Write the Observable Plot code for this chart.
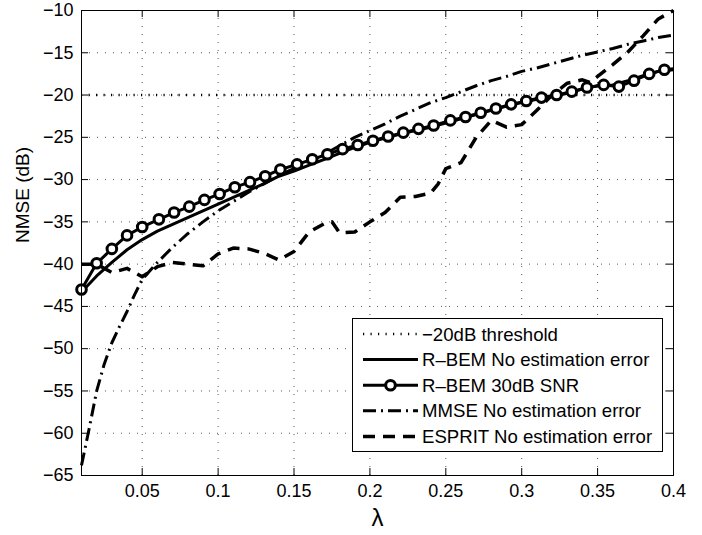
<!DOCTYPE html>
<html><head><meta charset="utf-8">
<script src="https://cdn.jsdelivr.net/npm/d3@7"></script>
<script src="https://cdn.jsdelivr.net/npm/@observablehq/plot@0.6"></script>
<style>
body{margin:0;background:#fff;}
#wrap{position:relative;width:702px;height:535px;font-family:"Liberation Sans",Arial,Helvetica,sans-serif;}
#legend{position:absolute;left:352px;top:318px;}
</style></head><body><div id="wrap"></div>
<script>
// ---- tick labels ----
const xTicks = [0.05, 0.1, 0.15, 0.2, 0.25, 0.3, 0.35, 0.4];
const yTicks = [-65, -60, -55, -50, -45, -40, -35, -30, -25, -20, -15, -10];
const thresholdDb = -20;

// ---- R-BEM 30dB SNR (with circle markers) ----
const rbem30Lambda = [0.010,0.020,0.030,0.040,0.050,0.061,0.071,0.081,0.091,0.101,0.111,0.121,0.131,0.141,0.152,0.162,0.172,0.182,0.192,0.202,0.212,0.222,0.232,0.242,0.253,0.263,0.273,0.283,0.293,0.303,0.313,0.323,0.333,0.343,0.354,0.364,0.374,0.384,0.394,0.400];
const rbem30Nmse   = [-43.0,-39.9,-38.2,-36.6,-35.6,-34.7,-33.9,-33.2,-32.4,-31.7,-30.9,-30.3,-29.6,-28.8,-28.2,-27.6,-27.0,-26.4,-25.9,-25.4,-24.9,-24.45,-24.0,-23.6,-23.0,-22.6,-22.1,-21.6,-21.1,-20.7,-20.3,-20.0,-19.6,-19.1,-18.8,-19.0,-18.3,-17.5,-17.0,-16.9];
const rbem30Marked = 39; // markers drawn on the first 39 samples

// ---- R-BEM no estimation error ----
const rbemLambda = [0.01,0.02,0.03,0.04,0.05,0.06,0.07,0.08,0.09,0.10,0.11,0.12,0.13,0.14,0.15,0.16,0.17,0.18,0.19,0.20,0.21,0.22,0.23,0.24,0.25,0.26,0.27,0.28,0.29,0.30,0.31,0.32,0.33,0.34,0.35,0.36,0.37,0.38,0.39,0.40];
const rbemNmse   = [-43.3,-41.4,-39.8,-38.3,-37.1,-36.1,-35.3,-34.5,-33.7,-32.9,-32.1,-31.3,-30.5,-29.6,-29.0,-28.3,-27.6,-26.9,-26.2,-25.6,-25.1,-24.6,-24.2,-23.8,-23.3,-22.8,-22.3,-21.8,-21.3,-20.9,-20.5,-20.2,-19.8,-19.3,-18.9,-18.8,-18.3,-17.7,-17.2,-17.0];

// ---- MMSE no estimation error ----
const mmseLambda = [0.01,0.015,0.02,0.025,0.03,0.035,0.04,0.045,0.05,0.06,0.07,0.08,0.09,0.10,0.11,0.12,0.13,0.14,0.15,0.16,0.17,0.18,0.19,0.20,0.21,0.22,0.23,0.24,0.25,0.26,0.27,0.28,0.29,0.30,0.31,0.32,0.33,0.34,0.35,0.36,0.37,0.38,0.39,0.40];
const mmseNmse   = [-63.8,-59.5,-55.0,-51.8,-49.3,-47.4,-45.6,-43.6,-41.8,-39.8,-38.0,-36.4,-35.0,-33.7,-32.6,-31.5,-30.5,-29.5,-28.7,-27.8,-27.0,-26.0,-25.0,-24.2,-23.4,-22.5,-21.7,-20.9,-20.3,-19.6,-18.9,-18.3,-17.8,-17.2,-16.8,-16.3,-15.8,-15.3,-14.9,-14.5,-14.0,-13.6,-13.2,-12.9];

// ---- ESPRIT no estimation error ----
const espritLambda = [0.01,0.02,0.03,0.04,0.05,0.06,0.07,0.08,0.09,0.10,0.11,0.12,0.13,0.14,0.15,0.16,0.17,0.175,0.18,0.19,0.20,0.21,0.22,0.23,0.24,0.245,0.25,0.26,0.265,0.27,0.28,0.29,0.30,0.31,0.32,0.33,0.34,0.345,0.35,0.36,0.37,0.38,0.39,0.40];
const espritNmse   = [-40.0,-40.0,-41.0,-40.5,-41.5,-40.3,-39.8,-40.0,-40.2,-38.8,-38.1,-38.2,-38.7,-39.5,-38.5,-36.2,-35.2,-35.0,-36.3,-36.2,-35.0,-33.9,-32.1,-32.0,-31.6,-30.5,-28.7,-28.0,-26.5,-25.0,-23.0,-23.8,-23.5,-21.8,-20.0,-18.6,-18.2,-18.5,-17.8,-16.4,-14.9,-13.0,-11.0,-10.0];

const zip = (xs, ys) => xs.map((x, i) => ({x, y: ys[i]}));
const rbem30 = zip(rbem30Lambda, rbem30Nmse);
const rbem = zip(rbemLambda, rbemNmse);
const mmse = zip(mmseLambda, mmseNmse);
const esprit = zip(espritLambda, espritNmse);

const fmtY = d => d < 0 ? "\u2212" + Math.abs(d) : String(d);
const lineStyle = {x: "x", y: "y", stroke: "black", strokeLinejoin: "round", strokeLinecap: "butt"};

const chart = Plot.plot({
  width: 702, height: 535,
  marginLeft: 81, marginRight: 29, marginTop: 10, marginBottom: 60,
  style: {fontFamily: "'Liberation Sans', Arial, Helvetica, sans-serif", fontSize: "18px", color: "black", background: "white"},
  x: {domain: [0.01, 0.4]},
  y: {domain: [-65, -10]},
  marks: [
    Plot.gridX(xTicks, {stroke: "#555", strokeOpacity: 1, strokeDasharray: "1,7"}),
    Plot.gridY(yTicks, {stroke: "#555", strokeOpacity: 1, strokeDasharray: "1,7"}),
    Plot.ruleY([thresholdDb], {stroke: "black", strokeWidth: 2.6, strokeDasharray: "1.2,6.3"}),
    Plot.line(esprit, {...lineStyle, strokeWidth: 3.5, strokeDasharray: "12,8"}),
    Plot.line(mmse, {...lineStyle, strokeWidth: 3, strokeDasharray: "13,5,2,5"}),
    Plot.line(rbem, {...lineStyle, strokeWidth: 3}),
    Plot.line(rbem30, {...lineStyle, strokeWidth: 3}),
    Plot.dot(rbem30.slice(0, rbem30Marked), {x: "x", y: "y", r: 4.8, stroke: "black", strokeWidth: 3, fill: "white"}),
    Plot.frame({stroke: "black", strokeWidth: 1}),
    Plot.tickX(xTicks, {x: d => d, stroke: "black", insetTop: 458}),
    Plot.tickX(xTicks, {x: d => d, stroke: "black", insetBottom: 458}),
    Plot.tickY(yTicks, {y: d => d, stroke: "black", insetRight: 585}),
    Plot.tickY(yTicks, {y: d => d, stroke: "black", insetLeft: 585}),
    Plot.axisX({ticks: xTicks, tickSize: 0, tickPadding: 9, tickFormat: d => String(d), label: null}),
    Plot.axisY({ticks: yTicks, tickSize: 0, tickPadding: 8, tickFormat: fmtY, label: null}),
    Plot.text(["λ"], {text: d => d, frameAnchor: "bottom", dy: 50, fontSize: 24}),
    Plot.text(["NMSE (dB)"], {text: d => d, frameAnchor: "left", dx: -59, rotate: -90, fontSize: 19})
  ]
});
document.getElementById("wrap").appendChild(chart);

// ---- legend (overlay) ----
const legendItems = [
  {label: "\u221220dB threshold", dash: "1.2,6.3", width: 2.6, marker: false},
  {label: "R\u2013BEM No estimation error", dash: null, width: 3, marker: false},
  {label: "R\u2013BEM 30dB SNR", dash: null, width: 3, marker: true},
  {label: "MMSE No estimation error", dash: "13,5,2,5", width: 3, marker: false},
  {label: "ESPRIT No estimation error", dash: "12,8", width: 3.5, marker: false}
];
const lw = 311, lh = 134;
const leg = d3.select("#wrap").append("svg").attr("id", "legend").attr("width", lw).attr("height", lh);
leg.append("rect").attr("x", 0.5).attr("y", 0.5).attr("width", lw - 1).attr("height", lh - 1)
  .attr("fill", "white").attr("stroke", "black");
legendItems.forEach((d, i) => {
  const cy = 16 + i * 25.6;
  const g = leg.append("g");
  g.append("line").attr("x1", 11).attr("x2", 66).attr("y1", cy).attr("y2", cy)
    .attr("stroke", "black").attr("stroke-width", d.width).attr("stroke-dasharray", d.dash);
  if (d.marker) g.append("circle").attr("cx", 38.5).attr("cy", cy).attr("r", 4.8)
    .attr("fill", "white").attr("stroke", "black").attr("stroke-width", 3);
  g.append("text").attr("x", 70).attr("y", cy).attr("dy", "0.35em")
    .attr("font-family", "'Liberation Sans', Arial, Helvetica, sans-serif").attr("font-size", 18.6)
    .text(d.label);
});
</script></body></html>
